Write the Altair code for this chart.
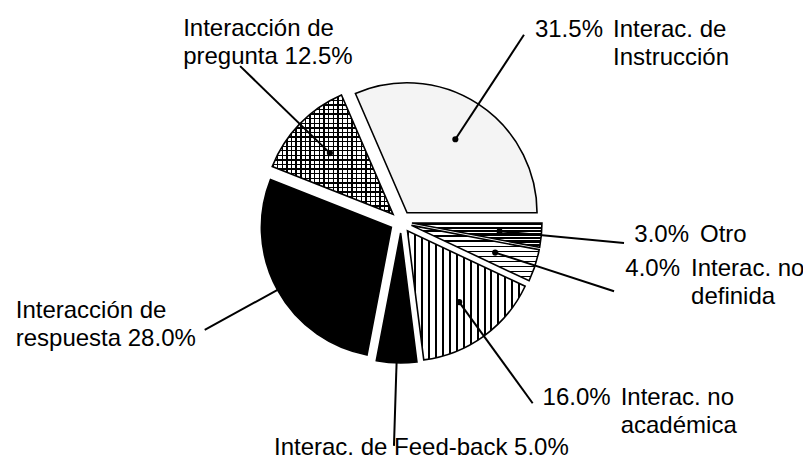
import math
import altair as alt
import pandas as pd

# ---------------- data ----------------
keys = ["instruccion", "otro", "no_definida", "no_academica", "feedback", "respuesta", "pregunta"]
values = [31.5, 3.0, 4.0, 16.0, 5.0, 28.0, 12.5]
label_text = [
    "Interac. de\nInstrucción",
    "Otro",
    "Interac. no\ndefinida",
    "Interac. no\nacadémica",
    "Interac. de Feed-back 5.0%",
    "Interacción de\nrespuesta 28.0%",
    "Interacción de\npregunta 12.5%",
]
pct_text = ["31.5%", "3.0%", "4.0%", "16.0%", "", "", ""]

df = pd.DataFrame({
    "key": keys,
    "value": values,
    "order": list(range(len(keys))),
    "label": label_text,
    "pct": pct_text,
})

# ---------------- layout / style ----------------
W, H = 795, 452
CX, CY = 393, 214          # pie centre (plot coordinates)
EXPLODE = 11               # how far each slice is pulled out
R = 130                    # slice radius
R_DOT = 88                 # leader dot, measured from slice apex
R_END = 213                # leader end, measured from slice apex
START = math.radians(336.6)
FONT = "Liberation Sans"
FS = 24

# label offsets relative to leader end: (dx text, dy, dx pct)
label_layout = {
    "instruccion": (89, 2, 79),
    "otro": (76, -1, 65),
    "no_definida": (77, -15, 66),
    "no_academica": (88, 2, 78),
    "feedback": (-120, 9, None),
    "respuesta": (-189, -12, None),
    "pregunta": (-57, -30, None),
}


def stripes(n, dark_frac, vertical, dark="black", light="white"):
    stops = []
    for k in range(n):
        a = k / n
        b = (k + dark_frac) / n
        c = (k + 1) / n
        stops += [
            alt.GradientStop(offset=a, color=dark),
            alt.GradientStop(offset=b, color=dark),
            alt.GradientStop(offset=b, color=light),
            alt.GradientStop(offset=c, color=light),
        ]
    if vertical:
        return alt.LinearGradient(gradient="linear", stops=stops, x1=0, y1=0, x2=1, y2=0)
    return alt.LinearGradient(gradient="linear", stops=stops, x1=0, y1=0, x2=0, y2=1)


fills = {
    "instruccion": ["#f4f4f4"],
    "otro": [stripes(7, 0.62, False)],
    "no_definida": [stripes(11, 0.3, False)],
    "no_academica": [stripes(17, 0.28, True)],
    "feedback": ["black"],
    "respuesta": ["black"],
    "pregunta": [stripes(26, 0.3, True), stripes(26, 0.3, False, light="rgba(255,255,255,0)")],
}

xs = alt.Scale(domain=[0, W], nice=False, zero=False)
ys = alt.Scale(domain=[H, 0], nice=False, zero=False)
ts = alt.Scale(domain=[0, 100], range=[START, START + 2 * math.pi])

base = (
    alt.Chart(df)
    .transform_window(cum="sum(value)", sort=[alt.SortField("order")], frame=[None, 0])
    .transform_calculate(
        t0="datum.cum - datum.value",
        t1="datum.cum",
        mid=f"{START} + 2*PI*(datum.cum - datum.value/2)/100",
    )
    .transform_calculate(
        ax=f"{CX} + {EXPLODE}*sin(datum.mid)",
        ay=f"{CY} - {EXPLODE}*cos(datum.mid)",
    )
    .transform_calculate(
        dotx=f"datum.ax + {R_DOT}*sin(datum.mid)",
        doty=f"datum.ay - {R_DOT}*cos(datum.mid)",
        endx=f"datum.ax + {R_END}*sin(datum.mid)",
        endy=f"datum.ay - {R_END}*cos(datum.mid)",
    )
)

layers = []
for k in keys:
    for i, f in enumerate(fills[k]):
        layers.append(
            base.transform_filter(alt.datum.key == k)
            .mark_arc(radius=R, fill=f, stroke="black", strokeWidth=1.6 if i == 0 else 0)
            .encode(
                x=alt.X("ax:Q", scale=xs, axis=None),
                y=alt.Y("ay:Q", scale=ys, axis=None),
                theta=alt.Theta("t0:Q", scale=ts, stack=False),
                theta2=alt.Theta2("t1"),
            )
        )

rules = base.mark_rule(color="black", strokeWidth=2).encode(
    x=alt.X("dotx:Q", scale=xs, axis=None),
    y=alt.Y("doty:Q", scale=ys, axis=None),
    x2="endx:Q",
    y2="endy:Q",
)
dots = base.mark_circle(color="black", size=38, opacity=1).encode(
    x=alt.X("dotx:Q", scale=xs, axis=None),
    y=alt.Y("doty:Q", scale=ys, axis=None),
)
layers += [rules, dots]

for k in keys:
    dx, dy, dxp = label_layout[k]
    sub = base.transform_filter(alt.datum.key == k)
    layers.append(
        sub.mark_text(align="left", baseline="alphabetic", dx=dx, dy=dy, font=FONT,
                      fontSize=FS, lineBreak="\n", lineHeight=28, color="black")
        .encode(
            x=alt.X("endx:Q", scale=xs, axis=None),
            y=alt.Y("endy:Q", scale=ys, axis=None),
            text="label:N",
        )
    )
    if dxp is not None:
        layers.append(
            sub.mark_text(align="right", baseline="alphabetic", dx=dxp, dy=dy, font=FONT,
                          fontSize=FS, color="black")
            .encode(
                x=alt.X("endx:Q", scale=xs, axis=None),
                y=alt.Y("endy:Q", scale=ys, axis=None),
                text="pct:N",
            )
        )

chart = (
    alt.layer(*layers)
    .properties(width=W, height=H, padding=0, autosize=alt.AutoSizeParams(type="none"),
                background="white")
    .configure_view(strokeWidth=0)
)

chart.save("out.html", embed_options={"renderer": "svg", "actions": False})
